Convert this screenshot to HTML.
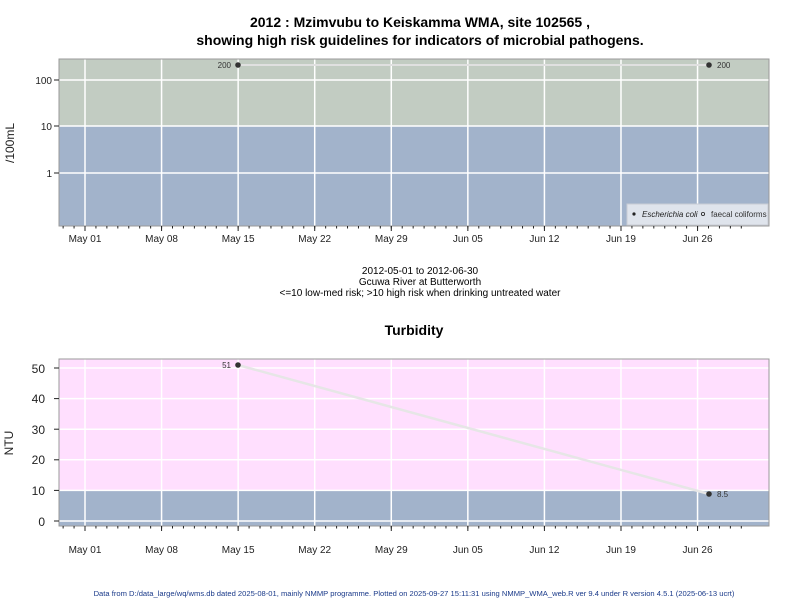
<!DOCTYPE html>
<html><head><meta charset="utf-8"><style>
body{margin:0;background:#fff;}
svg{display:block;font-family:"Liberation Sans",Arial,sans-serif;}
</style></head><body>
<svg id="s" width="800" height="600" xmlns="http://www.w3.org/2000/svg">
<text x="420" y="27" font-size="14" font-weight="bold" text-anchor="middle">2012 : Mzimvubu to Keiskamma WMA, site 102565 ,</text>
<text x="420" y="45" font-size="14" font-weight="bold" text-anchor="middle">showing high risk guidelines for indicators of microbial pathogens.</text>
<!-- plot 1 -->
<rect x="59" y="59" width="710" height="67" fill="#c2ccc2"/>
<rect x="59" y="126" width="710" height="100" fill="#a2b3cb"/>
<g id="g1" stroke="#fff" stroke-width="1.5"></g>
<line x1="238" y1="65" x2="709" y2="65" stroke="#e0e0e0" stroke-width="2"/>
<circle cx="238" cy="65" r="2.8" fill="#333"/>
<circle cx="709" cy="65" r="2.8" fill="#333"/>
<text x="231" y="68" font-size="8" text-anchor="end" fill="#333">200</text>
<text x="717" y="68" font-size="8" fill="#333">200</text>
<rect x="59" y="59" width="710" height="167" fill="none" stroke="#999"/>
<rect x="627" y="204" width="141" height="21" fill="#dfe4ec" stroke="#c8ccd4"/>
<circle cx="634" cy="214" r="1.6" fill="#222"/>
<text x="642" y="217" font-size="8" font-style="italic" fill="#222">Escherichia coli</text>
<circle cx="703" cy="214" r="1.6" fill="none" stroke="#222" stroke-width="0.8"/>
<text x="711" y="217" font-size="8" fill="#333">faecal coliforms</text>
<g font-size="10" text-anchor="end" fill="#222">
<text x="52" y="84">100</text><text x="52" y="130">10</text><text x="52" y="177">1</text>
</g>
<text transform="translate(14,143) rotate(-90)" font-size="12" text-anchor="middle" fill="#222">/100mL</text>
<g id="t1"></g>
<text x="420" y="274" font-size="10" text-anchor="middle">2012-05-01 to 2012-06-30</text>
<text x="420" y="285" font-size="10" text-anchor="middle">Gcuwa River at Butterworth</text>
<text x="420" y="296" font-size="10" text-anchor="middle">&lt;=10 low-med risk; &gt;10 high risk when drinking untreated water</text>
<text x="414" y="335" font-size="14" font-weight="bold" text-anchor="middle">Turbidity</text>
<!-- plot 2 -->
<rect x="59" y="359" width="710" height="131" fill="#ffdffe"/>
<rect x="59" y="490" width="710" height="36" fill="#a2b3cb"/>
<g id="g2" stroke="#fff" stroke-width="1.5"></g>
<line x1="238" y1="365" x2="709" y2="494" stroke="#e6e6e6" stroke-width="2.5"/>
<circle cx="238" cy="365" r="2.8" fill="#333"/>
<circle cx="709" cy="494" r="2.8" fill="#333"/>
<text x="231" y="368" font-size="8" text-anchor="end" fill="#333">51</text>
<text x="717" y="497" font-size="8" fill="#333">8.5</text>
<rect x="59" y="359" width="710" height="167" fill="none" stroke="#999"/>
<g font-size="12" text-anchor="end" fill="#222">
<text x="45" y="373">50</text><text x="45" y="403">40</text><text x="45" y="434">30</text><text x="45" y="464">20</text><text x="45" y="495">10</text><text x="45" y="526">0</text>
</g>
<text transform="translate(13,443) rotate(-90)" font-size="12" text-anchor="middle" fill="#222">NTU</text>
<g id="t2"></g>
<text x="414" y="596" font-size="7.6" text-anchor="middle" fill="#1a3a8a">Data from D:/data_large/wq/wms.db dated 2025-08-01, mainly NMMP programme. Plotted on 2025-09-27 15:11:31 using NMMP_WMA_web.R ver 9.4 under R version 4.5.1 (2025-06-13 ucrt)</text>
</svg>
<script>
var ns="http://www.w3.org/2000/svg";
function el(p,t,a,txt){var e=document.createElementNS(ns,t);for(var k in a)e.setAttribute(k,a[k]);if(txt)e.textContent=txt;document.getElementById(p).appendChild(e);}
var labs=["May 01","May 08","May 15","May 22","May 29","Jun 05","Jun 12","Jun 19","Jun 26"];
var d=76.57/7;
for(var i=0;i<9;i++){var x=85+i*76.57;
 el("g1","line",{x1:x,y1:59,x2:x,y2:226});
 el("g2","line",{x1:x,y1:359,x2:x,y2:526});
 el("t1","line",{x1:x,y1:226,x2:x,y2:231,stroke:"#222"});
 el("t2","line",{x1:x,y1:526,x2:x,y2:531,stroke:"#222"});
 el("t1","text",{x:x,y:242,"font-size":10,"text-anchor":"middle",fill:"#222"},labs[i]);
 el("t2","text",{x:x,y:553,"font-size":10,"text-anchor":"middle",fill:"#222"},labs[i]);}
for(var k=-2;k<=60;k++){var x=85+k*d;if(x<60||x>768)continue;
 el("t1","line",{x1:x,y1:226,x2:x,y2:228.5,stroke:"#222"});
 el("t2","line",{x1:x,y1:526,x2:x,y2:528.5,stroke:"#222"});}
[80,126,173].forEach(function(y){el("g1","line",{x1:59,y1:y,x2:769,y2:y});el("t1","line",{x1:54,y1:y,x2:59,y2:y,stroke:"#222"});});
for(var v=0;v<=50;v+=10){var y=521-v*3.06;el("g2","line",{x1:59,y1:y,x2:769,y2:y});el("t2","line",{x1:54,y1:y,x2:59,y2:y,stroke:"#222"});}
</script>
</body></html>
